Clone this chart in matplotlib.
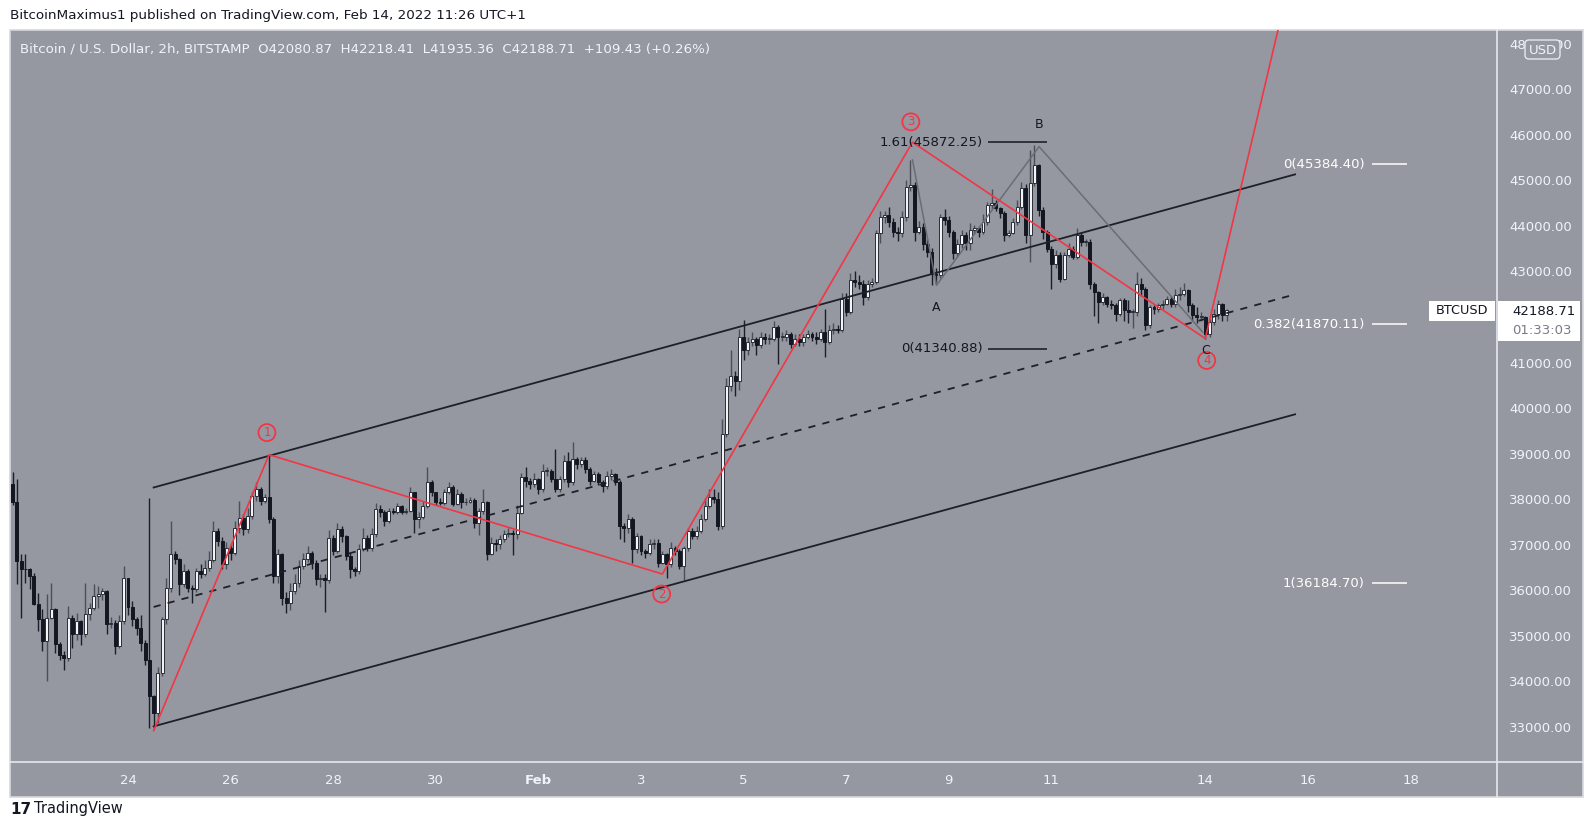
import numpy as np
import pandas as pd
import matplotlib
matplotlib.use('Agg')
import matplotlib.pyplot as plt
import matplotlib.dates as mdates
import matplotlib.transforms as mtransforms
from matplotlib.patches import Rectangle, FancyBboxPatch

plt.rcParams['font.family'] = ['DejaVu Sans']

# ---------------- data (2h candles, BITSTAMP BTC/USD) ----------------
first_open = 38365
closes = [
    37962, 36678, 36494, 36490, 36350, 35738, 35394, 34917, 35430, 35613, 34858, 34623,
    34550, 35430, 35078, 35357, 35063, 35504, 35650, 35907, 35950, 36017, 35298, 35320,
    34807, 35357, 36296, 35672, 35394, 35210, 34880, 34513, 33706, 33339, 34220, 35394,
    36090, 36824, 36714, 36164, 36458, 36090, 36054, 36458, 36400, 36530, 36700, 37338,
    37118, 36604, 36971, 36861, 37411, 37631, 37375, 37668, 38108, 38255, 37998, 38072,
    37595, 36347, 36825, 35870, 35760, 36017, 36200, 36567, 36714, 36861, 36641, 36274,
    36310, 36250, 37191, 36900, 37375, 37228, 36788, 36494, 36450, 36934, 37191, 36971,
    37264, 37815, 37742, 37558, 37778, 37760, 37888, 37742, 37778, 38182, 37595, 37650,
    37888, 38402, 38182, 37961, 37950, 38182, 38292, 37925, 38145, 37961, 37961, 38010,
    37521, 37778, 37961, 36824, 37081, 37045, 37155, 37265, 37300, 37265, 37740, 38512,
    38438, 38365, 38475, 38255, 38658, 38658, 38475, 38255, 38475, 38878, 38402, 38915,
    38805, 38900, 38695, 38438, 38585, 38402, 38328, 38548, 38585, 38402, 37448, 37411,
    37594, 36934, 37228, 36897, 36861, 37044, 37081, 36641, 36824, 36604, 36971, 36897,
    36567, 36971, 37338, 37228, 37338, 37594, 37888, 38071, 38035, 37448, 39465, 40529,
    40749, 40639, 41593, 41300, 41483, 41556, 41410, 41593, 41556, 41556, 41813, 41593,
    41593, 41666, 41446, 41556, 41483, 41593, 41666, 41593, 41556, 41703, 41483, 41740,
    41776, 41740, 42437, 42143, 42841, 42804, 42767, 42474, 42767, 42804, 43867, 44234,
    44271, 44124, 43904, 43867, 44234, 44895, 44932, 43904, 44014, 43647, 43464, 42987,
    42950, 44234, 44161, 43904, 43428, 43647, 43831, 43650, 43941, 43978, 43904, 44124,
    44491, 44528, 44418, 44308, 43831, 43867, 44124, 44454, 44858, 43831, 44968, 45371,
    44381, 43904, 43537, 43207, 43391, 42876, 43391, 43537, 43354, 43831, 43684, 43684,
    42767, 42583, 42363, 42473, 42326, 42290, 42106, 42400, 42180, 42143, 42150, 42766,
    42656, 41849, 42253, 42216, 42290, 42326, 42436, 42326, 42510, 42546, 42620, 42290,
    42070, 42033, 42033, 41666, 41923, 42100, 42326, 42080.87, 42188.71,
]
highs = [
    38622, 38475, 36824, 36824, 36520, 36420, 35980, 35620, 35944, 36200, 35650, 34900,
    34700, 35687, 35480, 35540, 35380, 36200, 35760, 36178, 36120, 36090, 36050, 35440,
    35380, 35500, 36568, 36300, 35800, 35450, 35500, 34950, 38060, 33740, 34350, 35450,
    36300, 37558, 36900, 36750, 36600, 36500, 36150, 36530, 36600, 36700, 36900, 37558,
    37400, 37200, 37100, 37050, 37558, 38000, 37700, 37850, 38200, 38400, 38300, 38150,
    38989, 37650, 36950, 36850, 36000, 36200, 36400, 36700, 36850, 37000, 36900, 36700,
    36400, 36400, 37350, 37250, 37500, 37450, 37250, 36850, 36550, 37050, 37400, 37250,
    37400, 37950, 37900, 37800, 37850, 37850, 37950, 37900, 37850, 38300, 38200, 37750,
    37990, 38730, 38450, 38200, 38050, 38250, 38400, 38350, 38250, 38200, 38050, 38080,
    38060, 37850, 38250, 38000, 37200, 37150, 37250, 37350, 37400, 37350, 37900, 38600,
    38730, 38500, 38600, 38500, 38800, 38750, 38700, 39135, 38550, 39000, 39062, 39282,
    38950, 38960, 38950, 38750, 38650, 38620, 38450, 38650, 38700, 38600, 38450, 37500,
    37700, 37650, 37300, 37250, 36950, 37150, 37150, 37150, 36900, 36850, 37100, 37000,
    36950, 37000, 37400, 37400, 37450, 37700, 38050, 38250, 38250, 38200, 39800, 40700,
    41300, 40850, 41780, 41960, 41600, 41700, 41600, 41700, 41680, 41650, 41950, 41850,
    41700, 41750, 41700, 41650, 41650, 41650, 41750, 41700, 41700, 41780, 42210, 41850,
    41900, 41850, 42550, 42550, 42990, 43050, 42950, 42850, 42850, 42900, 43950, 44350,
    44350, 44450, 44200, 44000, 44350, 45042, 45482, 45000, 44150, 44100, 43750, 43550,
    43100, 44300, 44400, 44250, 43950, 43750, 43950, 43900, 44100, 44050, 44000, 44300,
    44550, 44850, 44600, 44450, 44350, 43950, 44200, 44600, 45000, 44950, 45700, 45812,
    45400, 44450, 43950, 43600, 43500, 43450, 43450, 43650, 43600, 43980, 43900, 43750,
    43750, 42800, 42600, 42550, 42500, 42400, 42350, 42450, 42450, 42400, 42200, 43020,
    42900, 42700, 42300, 42300, 42350, 42400, 42500, 42500, 42650, 42700, 42770, 42650,
    42350, 42250, 42150, 42050, 42000, 42200, 42400, 42350, 42218.41,
]
lows = [
    37900, 36164, 35430, 36200, 36054, 35720, 35137, 34700, 34036, 35400, 34650, 34513,
    34293, 34480, 34770, 34950, 34840, 35000, 35390, 35600, 35650, 35830, 35078, 35200,
    34638, 34770, 35300, 35500, 35250, 35050, 34700, 34400, 33010, 33010, 33120, 34150,
    35300, 36000, 36600, 35940, 36100, 36000, 35760, 36000, 36300, 36350, 36450, 36650,
    37000, 36500, 36500, 36700, 36800, 37300, 37250, 37300, 37600, 38000, 37900, 37950,
    37500, 36200, 36200, 35700, 35540, 35600, 35950, 36100, 36500, 36650, 36500, 36150,
    36100, 35550, 36200, 36800, 36850, 37100, 36700, 36300, 36350, 36400, 36900, 36900,
    36900, 37200, 37650, 37450, 37500, 37700, 37700, 37700, 37700, 37750, 37300, 37400,
    37600, 37850, 38100, 37900, 37900, 37900, 38150, 37880, 37900, 37850, 37900, 37950,
    37400, 37250, 37700, 36700, 36800, 36900, 36950, 37100, 37200, 36800, 37150, 37700,
    38300, 38250, 38300, 38150, 38200, 38550, 38400, 38200, 38200, 38400, 38300, 38350,
    38700, 38750, 38600, 38350, 38400, 38350, 38200, 38250, 38450, 38350, 37150, 37100,
    37300, 36640, 36850, 36800, 36750, 36800, 36950, 36550, 36600, 36300, 36550, 36800,
    36500, 36270, 36900, 37150, 37150, 37300, 37550, 37850, 37950, 37350, 37380, 39400,
    40400, 40300, 40420, 41100, 41200, 41400, 41200, 41350, 41450, 41450, 41500, 41000,
    41500, 41500, 41350, 41400, 41400, 41400, 41550, 41500, 41450, 41500, 41150, 41450,
    41650, 41680, 41700, 42050, 42100, 42700, 42650, 42290, 42400, 42700, 42750, 43650,
    44100, 44000, 43800, 43700, 43800, 44150, 44800, 43700, 43850, 43500, 43350, 42730,
    42750, 42900, 44050, 43800, 43300, 43350, 43550, 43500, 43500, 43850, 43800, 43850,
    44050, 44400, 44350, 44200, 43700, 43800, 43850, 44050, 44400, 43650, 43244, 44900,
    44250, 43750, 43450, 42650, 43100, 42800, 42850, 43350, 43300, 43300, 43600, 43600,
    42650, 42050, 41900, 42300, 42250, 42200, 41950, 42050, 41950, 41900, 41800, 42050,
    42500, 41750, 41800, 42100, 42150, 42200, 42300, 42250, 42250, 42400, 42500, 42150,
    41950, 41900, 41950, 41556, 41600, 41850, 42000, 41950, 41935.36,
]
start_time = '2022-01-21 18:00'

# drawings (Elliott waves, channel, fibs)
channel_t = ['2022-01-24 12:00', '2022-02-15 18:00']
channel_upper = [38290, 45165]
channel_lower = [33045, 39897]
channel_mid = [35667, 42531]
wave_t = ['2022-01-24 12:00', '2022-01-26 18:00', '2022-02-03 10:00',
          '2022-02-08 07:00', '2022-02-14 00:00', '2022-02-15 10:00']
wave_p = [32950, 39010, 36390, 45872.25, 41560, 48335]
abc_t = ['2022-02-08 07:00', '2022-02-08 18:15', '2022-02-10 18:15', '2022-02-13 22:50']
abc_p = [45482, 42730, 45775, 41700]
wave_labels = ['1', '2', '3', '4']
wave_label_t = ['2022-01-26 17:00', '2022-02-03 09:40', '2022-02-08 06:15', '2022-02-14 00:40']
wave_label_p = [39495, 35951, 46318, 41080]
abc_labels = ['A', 'B', 'C']
abc_label_t = ['2022-02-08 18:00', '2022-02-10 18:15', '2022-02-14 00:15']
abc_label_p = [42246, 46252, 41300]
fib_black = [('1.61(45872.25)', 45872.25), ('0(41340.88)', 41340.88)]
fib_white = [('0(45384.40)', 45384.40), ('0.382(41870.11)', 41870.11), ('1(36184.70)', 36184.70)]

price_ticks = list(range(33000, 49000, 1000))
date_ticks = ['2022-01-24', '2022-01-26', '2022-01-28', '2022-01-30', '2022-02-01', '2022-02-03',
              '2022-02-05', '2022-02-07', '2022-02-09', '2022-02-11', '2022-02-14', '2022-02-16',
              '2022-02-18']
date_labels = ['24', '26', '28', '30', 'Feb', '3', '5', '7', '9', '11', '14', '16', '18']

# ---------------- figure ----------------
W, H = 1593, 839
BG = '#9598a1'
LIGHT = '#f0f3fa'
RED = '#f23645'
fig = plt.figure(figsize=(W / 100, H / 100), dpi=100)
fig.patch.set_facecolor('white')

bg = fig.add_axes([0, 0, 1, 1])
bg.set_xlim(0, W)
bg.set_ylim(H, 0)
bg.axis('off')
bg.add_patch(Rectangle((10, 30), 1573, 767, facecolor=BG, edgecolor='#d6d8de', lw=1.2))
bg.plot([1497, 1497], [30, 797], color='#e6e8ee', lw=1.2)
bg.plot([10, 1583], [762, 762], color='#e6e8ee', lw=1.2)

bg.text(10, 15, 'BitcoinMaximus1 published on TradingView.com, Feb 14, 2022 11:26 UTC+1',
        fontsize=9.7, color='#131722', va='center', ha='left')
bg.text(20, 49, 'Bitcoin / U.S. Dollar, 2h, BITSTAMP  O42080.87  H42218.41  L41935.36  C42188.71  +109.43 (+0.26%)',
        fontsize=9.6, color=LIGHT, va='center', ha='left')
bg.text(10, 809, '17', fontsize=11, fontweight='bold', color='#131722', va='center', ha='left')
bg.text(34, 809, 'TradingView', fontsize=10.5, color='#131722', va='center', ha='left')

ax = fig.add_axes([10 / W, (H - 762) / H, (1497 - 10) / W, (762 - 30) / H])
ax.set_facecolor('none')
ax.axis('off')

base = mdates.date2num(pd.Timestamp('2022-01-24'))
ax.set_xlim(base - 2.300, base + 26.686)
ax.set_ylim(32263, 48335)

times = pd.date_range(start_time, periods=len(closes), freq='2h')
x = mdates.date2num(times)
C = np.array(closes, float)
O = np.concatenate([[first_open], C[:-1]])
Hh = np.maximum(np.array(highs, float), np.maximum(O, C))
Ll = np.minimum(np.array(lows, float), np.minimum(O, C))
up = C >= O

ax.vlines(x[up], Ll[up], Hh[up], color='#4c4f58', lw=1.0, zorder=3)
ax.vlines(x[~up], Ll[~up], Hh[~up], color='#1c1f27', lw=1.0, zorder=3)
bottom = np.minimum(O, C)
height = np.maximum(np.abs(C - O), 14)
bw = 0.058
ax.bar(x[up], height[up], bottom=bottom[up], width=bw, color='#f4f4f6', edgecolor='#2a2e39', lw=0.7, zorder=4)
ax.bar(x[~up], height[~up], bottom=bottom[~up], width=bw, color='#131722', edgecolor='#131722', lw=0.7, zorder=4)

def tn(lst):
    return mdates.date2num(pd.to_datetime(lst))

# channel
ct = tn(channel_t)
ax.plot(ct, channel_upper, color='#1e2029', lw=1.3, zorder=5)
ax.plot(ct, channel_lower, color='#1e2029', lw=1.3, zorder=5)
ax.plot(ct, channel_mid, color='#1e2029', lw=1.3, ls=(0, (4, 4)), zorder=5)

# ABC gray path
ax.plot(tn(abc_t), abc_p, color='#6a6d75', lw=1.1, zorder=5)
# red wave path
ax.plot(tn(wave_t), wave_p, color=RED, lw=1.2, zorder=6, clip_on=True)

# wave labels (circled)
wlt = tn(wave_label_t)
ax.scatter(wlt, wave_label_p, s=150, facecolors='none', edgecolors=RED, linewidths=1.3, zorder=7)
for t, p, s in zip(wlt, wave_label_p, wave_labels):
    ax.text(t, p, s, color=RED, fontsize=8.5, ha='center', va='center', zorder=8)
for t, p, s in zip(tn(abc_label_t), abc_label_p, abc_labels):
    ax.text(t, p, s, color='#131722', fontsize=9, ha='center', va='center', zorder=8)

# fib levels (black, middle)
for s, p in fib_black:
    ax.hlines(p, base + 16.764, base + 17.914, color='#131722', lw=1.1, zorder=5)
    ax.text(base + 16.66, p, s, color='#131722', fontsize=9.5, ha='right', va='center', zorder=8)
# fib levels (white, right)
for s, p in fib_white:
    ax.hlines(p, base + 24.25, base + 24.93, color='white', lw=1.1, zorder=5)
    ax.text(base + 24.11, p, s, color='white', fontsize=9.5, ha='right', va='center', zorder=8)

# price axis labels (hidden where the last-price tag sits)
tr_y = mtransforms.blended_transform_factory(ax.transAxes, ax.transData)
for p in price_ticks:
    if abs(p - closes[-1]) < 450:
        continue
    ax.text((1509 - 10) / 1487, p, f'{p}.00', transform=tr_y, fontsize=9.5, color=LIGHT,
            ha='left', va='center', clip_on=False)

# date labels
tr_x = mtransforms.blended_transform_factory(ax.transData, ax.transAxes)
for d, lab in zip(tn(date_ticks), date_labels):
    ax.text(d, (762 - 780) / 732, lab, transform=tr_x, fontsize=9.5, color=LIGHT,
            ha='center', va='center', fontweight='bold' if lab == 'Feb' else 'normal', clip_on=False)

# overlay for badges/tags
top = fig.add_axes([0, 0, 1, 1])
top.set_xlim(0, W)
top.set_ylim(H, 0)
top.axis('off')
top.patch.set_alpha(0)

top.add_patch(FancyBboxPatch((1525, 40), 35, 19, boxstyle='round,pad=0,rounding_size=4',
                             facecolor=BG, edgecolor='#e6e8ee', lw=1, zorder=5))
top.text(1542.5, 50, 'USD', fontsize=9.5, color=LIGHT, ha='center', va='center', zorder=6)

top.add_patch(Rectangle((1429, 301), 66, 20, facecolor='white', edgecolor='none', zorder=5))
top.text(1462, 311, 'BTCUSD', fontsize=9.3, color='#131722', ha='center', va='center', zorder=6)
top.add_patch(Rectangle((1498, 301), 82, 40, facecolor='white', edgecolor='none', zorder=5))
top.text(1512, 311.5, f'{closes[-1]:.2f}', fontsize=9.5, color='#131722', ha='left', va='center', zorder=6)
top.text(1512, 330, '01:33:03', fontsize=9.5, color='#787b86', ha='left', va='center', zorder=6)

fig.savefig('out.png', dpi=100, facecolor='white')
